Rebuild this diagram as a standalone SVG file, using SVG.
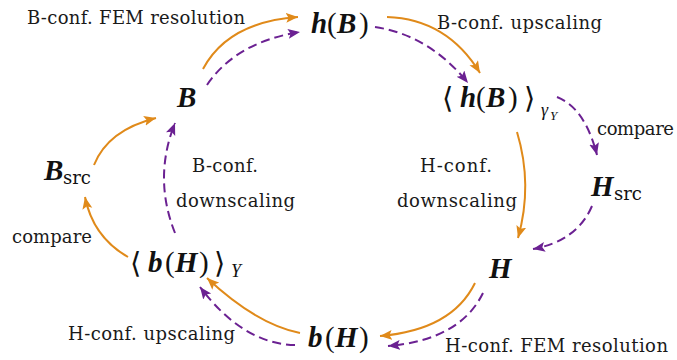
<svg xmlns="http://www.w3.org/2000/svg" width="677" height="360" viewBox="0 0 677 360">
<style>
.lbl{font-family:"DejaVu Serif","Liberation Serif",serif;font-size:18px;fill:#1a1a1a}
.m{font-family:"Liberation Serif","DejaVu Serif",serif;font-size:29px;fill:#111}
.v{font-weight:bold;font-style:italic}
.p{font-weight:normal;font-style:normal}
.ab{font-family:"DejaVu Serif","DejaVu Sans",serif;font-size:29px;font-weight:normal;fill:#111}
.sub{font-family:"DejaVu Serif","Liberation Serif",serif;font-size:18px;fill:#111}
.isub{font-family:"Liberation Serif","DejaVu Serif",serif;font-style:italic;fill:#111}
.o{fill:none;stroke:#E08A1A;stroke-width:2;marker-end:url(#ao)}
.u{fill:none;stroke:#6B2192;stroke-width:2;stroke-dasharray:9 5;marker-end:url(#ap)}
</style>
<defs>
<marker id="ao" markerUnits="userSpaceOnUse" markerWidth="13" markerHeight="11" refX="12" refY="5" orient="auto" viewBox="0 0 13 11">
<path d="M0,0 L12,5 L0,10 L2.5,5 z" fill="#E08A1A"/>
</marker>
<marker id="ap" markerUnits="userSpaceOnUse" markerWidth="13" markerHeight="11" refX="12" refY="5" orient="auto" viewBox="0 0 13 11">
<path d="M0,0 L12,5 L0,10 L2.5,5 z" fill="#6B2192"/>
</marker>
</defs>

<g id="connectors">
<path class="o" d="M203,69 Q228,22 298,17"/>
<path class="u" d="M207,85 Q236,42 300,32"/>
<path class="o" d="M387,17 Q447,19 480,73"/>
<path class="u" d="M375,27 Q429,35 468,83"/>
<path class="u" d="M557,97 Q585,108 597,155"/>
<path class="u" d="M592,206 Q577,241 533,249"/>
<path class="o" d="M517,132 Q533,185 518,238"/>
<path class="o" d="M475,283 Q452,330 380,336"/>
<path class="u" d="M483,293 Q460,340 388,346"/>
<path class="o" d="M300,333 Q256,324 207,278"/>
<path class="u" d="M295,345 Q243,344 200,287"/>
<path class="o" d="M128,257 Q93,237 85,197"/>
<path class="o" d="M94,165 Q108,130 156,118"/>
<path class="u" d="M175,233 Q153,178 175,123"/>
</g>

<g id="node-B">
<text class="m v" x="177" y="107">B</text>
</g>
<g id="node-hB">
<text class="m"><tspan class="v" x="311" y="33">h</tspan><tspan class="p" x="327" y="33">(</tspan><tspan class="v" x="337" y="33">B</tspan><tspan class="p" x="359" y="33">)</tspan></text>
</g>
<g id="node-hB-avg">
<text class="ab" x="442" y="108">⟨</text>
<text class="m"><tspan class="v" x="460" y="107">h</tspan><tspan class="p" x="476" y="107">(</tspan><tspan class="v" x="486" y="107">B</tspan><tspan class="p" x="508" y="107">)</tspan></text>
<text class="ab" x="524" y="108">⟩</text>
<text class="isub" x="541" y="116" font-size="18">γ</text>
<text class="isub" x="550" y="120" font-size="13">Y</text>
</g>
<g id="node-Hsrc">
<text class="m v" x="591" y="196">H</text>
<text class="sub" x="614" y="200">src</text>
</g>
<g id="node-H">
<text class="m v" x="489" y="278">H</text>
</g>
<g id="node-bH">
<text class="m"><tspan class="v" x="308" y="347">b</tspan><tspan class="p" x="325" y="347">(</tspan><tspan class="v" x="335" y="347">H</tspan><tspan class="p" x="359" y="347">)</tspan></text>
</g>
<g id="node-bH-avg">
<text class="ab" x="130" y="273">⟨</text>
<text class="m"><tspan class="v" x="148" y="272">b</tspan><tspan class="p" x="165" y="272">(</tspan><tspan class="v" x="175" y="272">H</tspan><tspan class="p" x="199" y="272">)</tspan></text>
<text class="ab" x="214" y="273">⟩</text>
<text class="isub" x="231" y="277" font-size="18">Y</text>
</g>
<g id="node-Bsrc">
<text class="m v" x="44" y="180">B</text>
<text class="sub" x="63" y="184">src</text>
</g>

<g id="labels">
<text class="lbl" x="27" y="24" textLength="218" lengthAdjust="spacing">B-conf. FEM resolution</text>
<text class="lbl" x="437" y="29" textLength="165" lengthAdjust="spacing">B-conf. upscaling</text>
<text class="lbl" x="597" y="135" textLength="77" lengthAdjust="spacing">compare</text>
<text class="lbl" x="420" y="172" textLength="72" lengthAdjust="spacing">H-conf.</text>
<text class="lbl" x="397" y="207" textLength="120" lengthAdjust="spacing">downscaling</text>
<text class="lbl" x="192" y="172" textLength="66" lengthAdjust="spacing">B-conf.</text>
<text class="lbl" x="176" y="207" textLength="119" lengthAdjust="spacing">downscaling</text>
<text class="lbl" x="12" y="243" textLength="80" lengthAdjust="spacing">compare</text>
<text class="lbl" x="68" y="340" textLength="167" lengthAdjust="spacing">H-conf. upscaling</text>
<text class="lbl" x="445" y="352" textLength="223" lengthAdjust="spacing">H-conf. FEM resolution</text>
</g>
</svg>
